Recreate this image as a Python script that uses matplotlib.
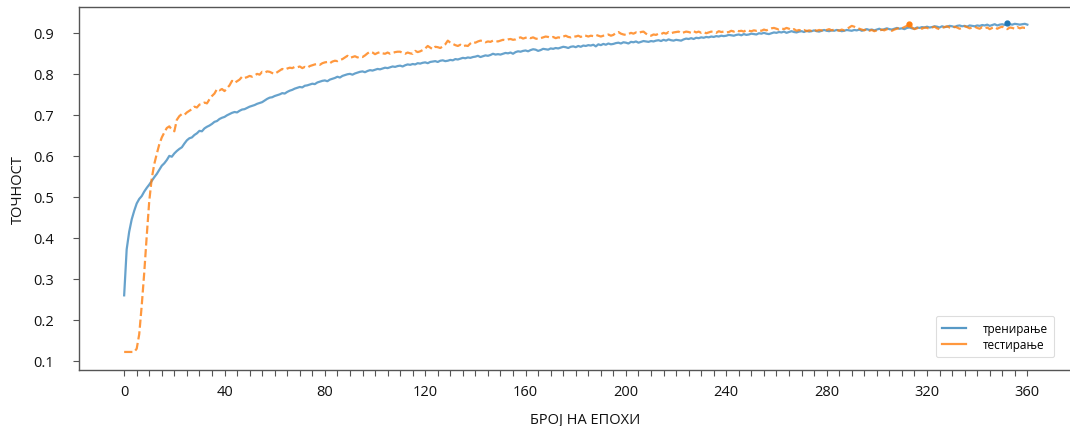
import matplotlib
matplotlib.use("Agg")
import matplotlib.pyplot as plt
from matplotlib.lines import Line2D
from matplotlib.ticker import FixedLocator
import numpy as np

plt.rcParams['font.family'] = ['Open Sans', 'DejaVu Sans']

# Accuracy per epoch, in thousandths (epochs 0..360)
train_acc_k = """
260 372 415 445 466 484 495 502 513 522
530 539 548 556 566 576 582 590 600 598
606 612 617 621 630 638 643 645 651 655
661 660 667 671 674 678 683 685 690 693
695 699 702 705 707 706 710 713 714 717
720 722 724 727 729 731 735 739 742 743
746 748 750 753 752 756 759 761 764 766
768 767 771 772 774 776 775 779 781 783
784 782 786 788 790 793 791 795 797 799
800 798 801 803 805 806 804 807 809 808
810 812 811 813 815 814 816 818 817 819
820 818 821 823 822 824 823 826 825 827
828 826 829 830 831 829 832 833 831 832
834 833 836 835 837 839 838 840 839 841
842 844 841 843 845 844 846 849 847 848
847 849 851 850 852 849 853 855 854 856
857 855 858 860 859 856 858 861 860 859
862 861 863 862 864 866 865 863 866 867
865 868 866 869 868 870 869 871 867 872
870 873 871 874 872 873 875 876 874 877
876 874 878 877 879 876 878 880 879 878
880 879 881 882 880 883 881 884 882 881
883 882 881 884 886 885 887 885 888 887
889 888 890 889 891 890 892 891 893 892
893 895 894 893 895 896 894 897 895 896
898 897 896 899 898 900 898 897 899 901
900 902 901 903 900 902 904 902 901 903
904 902 905 903 904 906 904 903 905 907
905 904 906 905 907 906 904 905 907 906
905 907 906 908 905 907 909 907 908 906
908 910 907 909 911 909 908 910 912 910
911 909 912 913 911 910 913 912 914 913
915 913 914 916 915 913 916 914 915 917
916 914 917 918 916 917 915 918 917 916
918 917 919 918 920 917 919 921 918 920
921 919 924 921 920 922 921 920 921 922
920
"""

test_acc_k = """
122 122 122 122 122 130 165 235 315 405
490 545 580 605 628 645 657 668 672 664
660 688 697 702 700 706 710 714 720 718
725 727 730 728 738 746 752 763 760 763
758 765 772 783 778 782 786 793 790 792
795 793 796 800 798 805 803 806 805 802
800 804 808 812 810 813 815 814 817 816
818 814 817 815 819 821 823 824 822 826
828 829 826 830 832 831 834 836 840 844
839 841 843 840 842 841 845 850 854 852
848 851 853 850 849 852 849 851 853 854
854 851 849 852 850 849 856 853 855 858
862 868 864 860 866 865 863 867 872 881
876 873 870 868 871 867 869 868 874 878
876 879 881 880 877 879 878 881 880 879
881 883 882 884 885 883 884 887 889 886
888 890 887 889 886 885 887 889 891 890
888 890 887 889 888 891 893 890 889 892
891 893 890 894 893 891 893 892 895 893
891 893 894 896 893 895 900 902 898 896
895 897 900 898 901 899 902 903 898 894
893 896 895 898 897 900 898 902 899 901
902 903 899 901 903 902 900 904 901 903
900 902 899 901 903 902 900 904 902 903
901 902 905 903 906 904 905 903 907 905
904 906 905 907 905 908 906 909 911 912
910 908 911 909 912 910 907 909 905 907
905 907 904 906 905 908 905 907 906 904
907 909 906 908 907 905 908 906 909 913
917 915 912 910 908 906 909 905 907 904
906 905 908 906 909 907 905 908 910 912
911 914 917 922 913 909 911 915 910 913
912 910 913 915 911 909 912 914 916 913
911 915 913 910 912 916 914 911 913 915
912 910 914 911 913 909 912 914 910 913
915 911 909 913 912 910 914 911 913 912
912
"""

train_acc = np.array([int(v) for v in train_acc_k.split()]) / 1000.0
test_acc = np.array([int(v) for v in test_acc_k.split()]) / 1000.0
epochs = np.arange(len(train_acc))

series_labels = ['тренирање', 'тестирање']
y_ticks = [0.1, 0.2, 0.3, 0.4, 0.5, 0.6, 0.7, 0.8, 0.9]
x_ticks = [0, 40, 80, 120, 160, 200, 240, 280, 320, 360]

blue = '#1f77b4'
orange = '#ff7f0e'

fig = plt.figure(figsize=(10.7, 4.27), dpi=100)
ax = fig.add_axes([79 / 1070, 1 - 371 / 427, 1 - 79 / 1070, (371 - 8) / 427])

ax.plot(epochs, train_acc, color=blue, lw=1.6, alpha=0.68)
ax.plot(epochs, test_acc, color=orange, lw=1.6, alpha=0.8, ls='--')

# highlight best epoch of each series
i_tr = int(np.argmax(train_acc))
i_te = int(np.argmax(test_acc))
ax.plot(epochs[i_tr], train_acc[i_tr], 'o', color=blue, ms=3.5)
ax.plot(epochs[i_te], test_acc[i_te], 'o', color=orange, ms=3.5)

ax.set_xlim(-18, 377)
ax.set_ylim(0.078, 0.963)
ax.set_xticks(x_ticks)
ax.xaxis.set_minor_locator(FixedLocator(np.arange(0, 361, 5)))
ax.set_yticks(y_ticks)
ax.set_yticklabels([f'{v:.1f}' for v in y_ticks])

for side in ['left', 'bottom', 'top']:
    ax.spines[side].set_color('#555555')
    ax.spines[side].set_linewidth(1.0)
ax.spines['right'].set_visible(False)

ax.tick_params(axis='both', which='both', direction='out', length=4,
               width=0.8, color='#555555', labelsize=10.5, labelcolor='#111111')
ax.tick_params(axis='x', which='major', pad=6)
ax.tick_params(axis='y', which='major', pad=14)

ax.set_xlabel('БРОЈ НА ЕПОХИ', fontsize=10.5, color='#111111', va='center')
ax.xaxis.set_label_coords(0.511, -0.136)
ax.set_ylabel('ТОЧНОСТ', fontsize=10.5, color='#111111', va='center')
ax.yaxis.set_label_coords(-0.061, 0.5)

handles = [Line2D([], [], color=blue, lw=1.6, alpha=0.75),
           Line2D([], [], color=orange, lw=1.6, alpha=0.8)]
leg = fig.legend(handles, series_labels, loc='upper left',
                 bbox_to_anchor=(936 / 1070, 1 - 317 / 427),
                 fontsize=8.5, frameon=True, fancybox=True, framealpha=1,
                 edgecolor='#dddddd', handlelength=2.0, handletextpad=1.5,
                 borderpad=0.5, labelspacing=0.3, borderaxespad=0)
leg.get_frame().set_linewidth(0.8)

fig.savefig('out.png', dpi=100)
